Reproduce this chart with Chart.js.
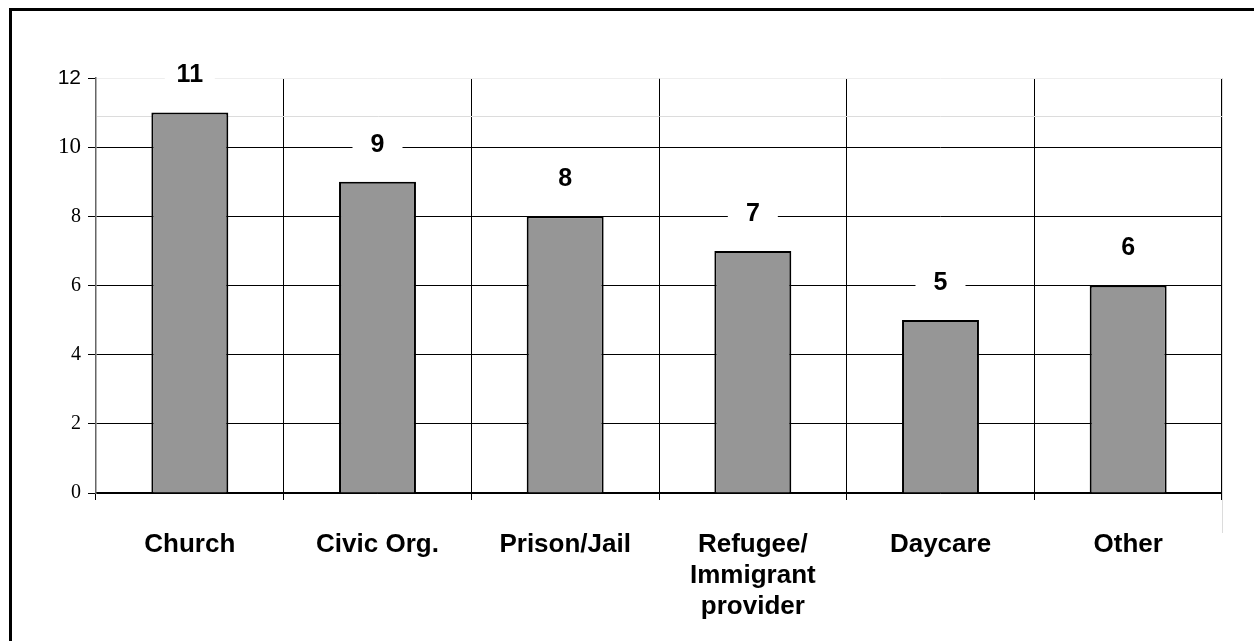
<!DOCTYPE html>
<html>
<head>
<meta charset="utf-8">
<script src="https://cdn.jsdelivr.net/npm/chart.js@4/dist/chart.umd.min.js"></script>
<style>
  body { margin: 0; background: #fff; }
  #wrap { position: relative; width: 1254px; height: 641px; overflow: hidden; }
  #frame { position: absolute; left: 9px; top: 8px; width: 1300px; height: 700px;
           border-top: 3px solid #000; border-left: 3px solid #000; }
  canvas { position: absolute; left: 0; top: 0; }
</style>
</head>
<body>
<div id="wrap">
  <div id="frame"></div>
  <canvas id="sites" width="1254" height="641"></canvas>
</div>
<script>
const sites = ['Church', 'Civic Org.', 'Prison/Jail', ['Refugee/', 'Immigrant', 'provider'], 'Daycare', 'Other']
const counts = [11, 9, 8, 7, 5, 6]
const yTicks = [0, 2, 4, 6, 8, 10, 12]

const serifFamily = '"Liberation Serif", "Times New Roman", serif'
const sansFamily = '"Liberation Sans", Arial, sans-serif'

// the y labels are not all set in the same face/size
const yTickFont = (c) => {
    const v = c.tick ? c.tick.value : 0
    if (v === 12) return { family: sansFamily, size: 21 }
    if (v === 10) return { family: serifFamily, size: 23 }
    return { family: serifFamily, size: 20 }
}

// faint line just under the top of the tallest bar, plus the long right edge
const extras = {
    id: 'extras',
    beforeDatasetsDraw(chart) {
        const { ctx, chartArea, scales } = chart
        const y = Math.round(scales.y.getPixelForValue(10.9)) + 0.5
        ctx.save()
        ctx.strokeStyle = '#dcdcdc'
        ctx.lineWidth = 1
        ctx.beginPath()
        ctx.moveTo(chartArea.left + 1, y)
        ctx.lineTo(chartArea.right, y)
        ctx.moveTo(chartArea.right + 0.5, chartArea.top)
        ctx.lineTo(chartArea.right + 0.5, chartArea.bottom + 40)
        ctx.stroke()
        ctx.restore()
    }
}

// value above each bar on a white box
const valueLabels = {
    id: 'valueLabels',
    afterDatasetsDraw(chart) {
        const { ctx } = chart
        const meta = chart.getDatasetMeta(0)
        ctx.save()
        ctx.font = 'bold 25px ' + sansFamily
        ctx.textAlign = 'center'
        ctx.textBaseline = 'middle'
        meta.data.forEach((bar, i) => {
            const y = bar.y - 37
            ctx.fillStyle = '#fff'
            ctx.fillRect(bar.x - 25, y - 13, 50, 26)
            ctx.fillStyle = '#000'
            ctx.fillText(String(counts[i]), bar.x, y)
        })
        ctx.restore()
    }
}

new Chart(document.getElementById('sites'), {
    type: 'bar',
    data: {
        labels: sites,
        datasets: [{
            data: counts,
            backgroundColor: '#969696',
            borderColor: '#000',
            borderWidth: 2,
            categoryPercentage: 1,
            barPercentage: 0.41
        }]
    },
    options: {
        responsive: false,
        animation: false,
        events: [],
        layout: { padding: { left: 0, top: 78, right: 32, bottom: 0 } },
        plugins: { legend: { display: false }, tooltip: { enabled: false } },
        scales: {
            x: {
                afterFit: (scale) => { scale.height = 148 },
                grid: {
                    offset: true,
                    color: (c) => c.index === sites.length ? 'rgba(0,0,0,0)' : '#000',
                    lineWidth: 1,
                    tickLength: 7
                },
                border: { color: '#000', width: 1.5 },
                ticks: {
                    color: '#000',
                    font: { family: sansFamily, size: 26, weight: 'bold', lineHeight: 1.2 },
                    padding: 29,
                    maxRotation: 0,
                    autoSkip: false
                }
            },
            y: {
                min: 0,
                max: 12,
                afterFit: (scale) => { scale.width = 96 },
                afterBuildTicks: (scale) => { scale.ticks = yTicks.map(v => ({ value: v })) },
                grid: {
                    color: (c) => c.tick && c.tick.value === 12 ? '#eeeeee' : '#000',
                    lineWidth: 1,
                    tickLength: 8,
                    tickColor: '#000'
                },
                border: { color: '#666', width: 1.5 },
                ticks: {
                    color: '#000',
                    padding: 7,
                    font: yTickFont
                }
            }
        }
    },
    plugins: [extras, valueLabels]
})
</script>
</body>
</html>
